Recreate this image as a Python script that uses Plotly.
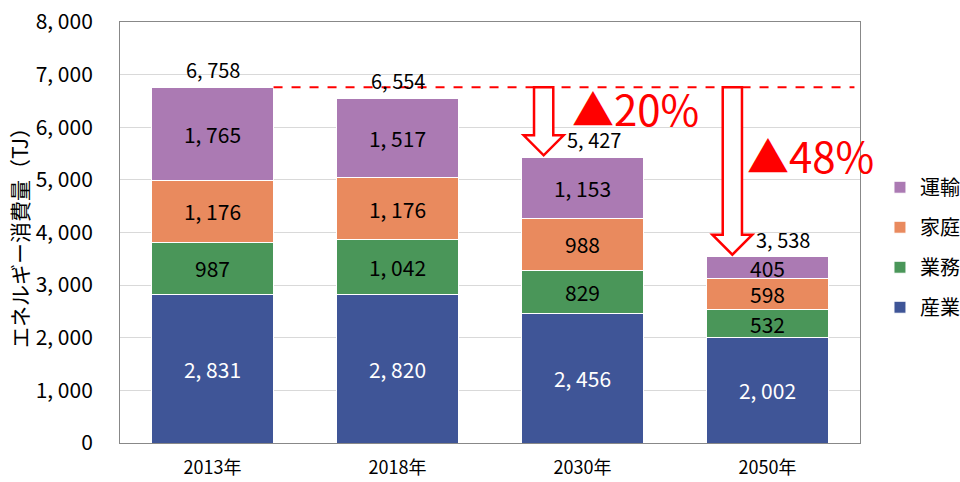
import plotly.graph_objects as go

years = ["2013年", "2018年", "2030年", "2050年"]
sangyo = [2831, 2820, 2456, 2002]
gyomu = [987, 1042, 829, 532]
katei = [1176, 1176, 988, 598]
unyu = [1765, 1517, 1153, 405]
totals = [6758, 6554, 5427, 3538]
reductions = ["▲20%", "▲48%"]
y_ticks = [0, 1000, 2000, 3000, 4000, 5000, 6000, 7000, 8000]

def fmt(v):
    return f"{v:,}".replace(",", ", ")

FONT = "Noto Sans CJK JP"
xs = list(range(len(years)))

series = [
    ("産業", sangyo, "#3F5597", "white", 4),
    ("業務", gyomu, "#4A9659", "black", 3),
    ("家庭", katei, "#E98A5E", "black", 2),
    ("運輸", unyu, "#AB7AB3", "black", 1),
]

fig = go.Figure()
for name, vals, color, tcolor, rank in series:
    fig.add_trace(go.Bar(
        x=xs, y=vals, name=name, legendgroup=name, legendrank=rank,
        marker=dict(color=color, line=dict(color="white", width=1)),
        text=[fmt(v) for v in vals], textposition="inside",
        insidetextanchor="middle", constraintext="none",
        textfont=dict(color=tcolor, size=21, family=FONT),
        hoverinfo="skip",
    ))

# totals
label_shift = [0, 0, 11, 15]
for i, t in enumerate(totals):
    fig.add_annotation(x=xs[i], y=t, text=fmt(t), showarrow=False,
                       yanchor="bottom", yshift=1, xshift=label_shift[i],
                       font=dict(size=20, color="black", family=FONT))

# dashed reference line at 2013 total
fig.add_shape(type="line", xref="x", yref="y",
              x0=xs[0] + 0.33, x1=3.47, y0=totals[0], y1=totals[0],
              line=dict(color="red", width=2, dash="dash"))

def arrow_path(xc, ytop, ytip, sw=0.052, hw=0.108, hh=380):
    yh = ytip + hh
    pts = [(xc - sw, ytop), (xc + sw, ytop), (xc + sw, yh), (xc + hw, yh),
           (xc, ytip), (xc - hw, yh), (xc - sw, yh)]
    return "M " + " L ".join(f"{x},{y}" for x, y in pts) + " Z"

arrow_x = [1.79, 2.81]
for ax, tgt in zip(arrow_x, [totals[2], totals[3]]):
    fig.add_shape(type="path", xref="x", yref="y",
                  path=arrow_path(ax, totals[0], tgt + 40),
                  line=dict(color="red", width=2.5), fillcolor="white")

fig.add_annotation(x=1.93, y=6380, text=reductions[0], showarrow=False,
                   xanchor="left", font=dict(size=42, color="red", family=FONT))
fig.add_annotation(x=2.88, y=5480, text=reductions[1], showarrow=False,
                   xanchor="left", font=dict(size=42, color="red", family=FONT))

fig.update_layout(
    width=960, height=482,
    barmode="stack", bargap=0.34,
    plot_bgcolor="white", paper_bgcolor="white",
    margin=dict(l=120, r=100, t=22, b=39, autoexpand=False),
    font=dict(family=FONT, color="black"),
    legend=dict(traceorder="grouped", x=1.027, y=0.465, xanchor="left",
                yanchor="middle", font=dict(size=20, family=FONT),
                tracegroupgap=11, itemwidth=30, bgcolor="rgba(0,0,0,0)"),
    showlegend=True,
)
fig.update_xaxes(range=[-0.5, 3.5], tickvals=xs, ticktext=years,
                 tickfont=dict(size=18, family=FONT), ticklabelstandoff=8,
                 showline=True, linecolor="#888", mirror=True, ticks="",
                 showgrid=False)
fig.update_yaxes(range=[0, 8000], tickvals=y_ticks,
                 ticktext=[fmt(v) for v in y_ticks],
                 tickfont=dict(size=21, family=FONT), ticklabelstandoff=22,
                 showline=True, linecolor="#888", mirror=True,
                 gridcolor="#D9D9D9", gridwidth=1, zeroline=False,
                 title=dict(text="エネルギー消費量（TJ）", font=dict(size=21, family=FONT),
                            standoff=1))

fig.write_html("out.html", config={"displayModeBar": False},
               post_script="document.body.style.margin='0';")
